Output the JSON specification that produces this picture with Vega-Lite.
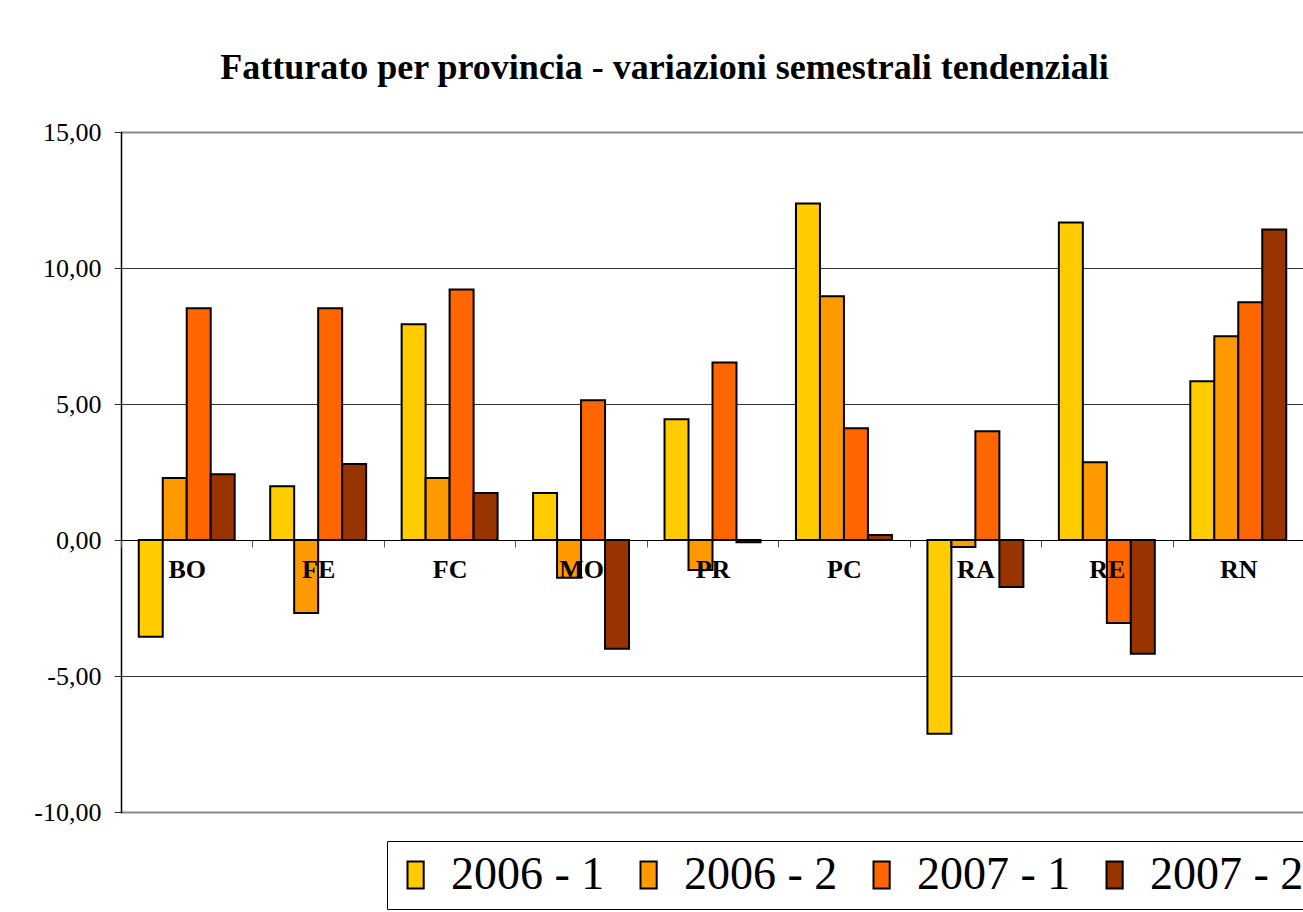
{
  "$schema": "https://vega.github.io/schema/vega-lite/v6.json",
  "autosize": {"type": "none"},
  "width": 1183,
  "height": 680,
  "padding": {"left": 121, "top": 132, "right": 0, "bottom": 100},
  "background": "white",
  "title": {
    "text": "Fatturato per provincia - variazioni semestrali tendenziali",
    "font": "Liberation Serif",
    "fontSize": 36,
    "fontWeight": "bold",
    "color": "black",
    "anchor": "middle",
    "frame": "group",
    "dx": -48,
    "offset": 32
  },
  "data": {
    "values": [
      {"prov": "BO", "periodo": "2006 - 1", "valore": -3.56},
      {"prov": "BO", "periodo": "2006 - 2", "valore": 2.28},
      {"prov": "BO", "periodo": "2007 - 1", "valore": 8.52},
      {"prov": "BO", "periodo": "2007 - 2", "valore": 2.42},
      {"prov": "FE", "periodo": "2006 - 1", "valore": 1.98},
      {"prov": "FE", "periodo": "2006 - 2", "valore": -2.68},
      {"prov": "FE", "periodo": "2007 - 1", "valore": 8.52},
      {"prov": "FE", "periodo": "2007 - 2", "valore": 2.79},
      {"prov": "FC", "periodo": "2006 - 1", "valore": 7.93},
      {"prov": "FC", "periodo": "2006 - 2", "valore": 2.28},
      {"prov": "FC", "periodo": "2007 - 1", "valore": 9.21},
      {"prov": "FC", "periodo": "2007 - 2", "valore": 1.73},
      {"prov": "MO", "periodo": "2006 - 1", "valore": 1.73},
      {"prov": "MO", "periodo": "2006 - 2", "valore": -1.39},
      {"prov": "MO", "periodo": "2007 - 1", "valore": 5.14},
      {"prov": "MO", "periodo": "2007 - 2", "valore": -4.0},
      {"prov": "PR", "periodo": "2006 - 1", "valore": 4.44},
      {"prov": "PR", "periodo": "2006 - 2", "valore": -1.1},
      {"prov": "PR", "periodo": "2007 - 1", "valore": 6.53},
      {"prov": "PR", "periodo": "2007 - 2", "valore": -0.08},
      {"prov": "PC", "periodo": "2006 - 1", "valore": 12.37},
      {"prov": "PC", "periodo": "2006 - 2", "valore": 8.96},
      {"prov": "PC", "periodo": "2007 - 1", "valore": 4.11},
      {"prov": "PC", "periodo": "2007 - 2", "valore": 0.18},
      {"prov": "RA", "periodo": "2006 - 1", "valore": -7.12},
      {"prov": "RA", "periodo": "2006 - 2", "valore": -0.26},
      {"prov": "RA", "periodo": "2007 - 1", "valore": 4.0},
      {"prov": "RA", "periodo": "2007 - 2", "valore": -1.73},
      {"prov": "RE", "periodo": "2006 - 1", "valore": 11.67},
      {"prov": "RE", "periodo": "2006 - 2", "valore": 2.86},
      {"prov": "RE", "periodo": "2007 - 1", "valore": -3.05},
      {"prov": "RE", "periodo": "2007 - 2", "valore": -4.18},
      {"prov": "RN", "periodo": "2006 - 1", "valore": 5.84},
      {"prov": "RN", "periodo": "2006 - 2", "valore": 7.49},
      {"prov": "RN", "periodo": "2007 - 1", "valore": 8.74},
      {"prov": "RN", "periodo": "2007 - 2", "valore": 11.42}
    ]
  },
  "mark": {"type": "bar", "stroke": "black", "strokeWidth": 2},
  "encoding": {
    "x": {
      "field": "prov",
      "type": "nominal",
      "sort": ["BO", "FE", "FC", "MO", "PR", "PC", "RA", "RE", "RN"],
      "scale": {"paddingInner": 0, "paddingOuter": 0},
      "axis": {
        "title": null,
        "offset": -272,
        "zindex": 1,
        "domainColor": "black",
        "domainWidth": 1,
        "tickBand": "extent",
        "tickColor": "#555",
        "tickSize": 7,
        "labelAngle": 0,
        "labelOverlap": false,
        "labelFont": "Liberation Serif",
        "labelFontSize": 26,
        "labelFontWeight": "bold",
        "labelColor": "black",
        "labelPadding": 9,
        "labelBaseline": "top",
        "grid": false
      }
    },
    "xOffset": {
      "field": "periodo",
      "type": "nominal",
      "scale": {"paddingInner": 0, "paddingOuter": 0.74}
    },
    "y": {
      "field": "valore",
      "type": "quantitative",
      "scale": {"domain": [-10, 15], "nice": false, "zero": false},
      "axis": {
        "title": null,
        "values": [-10, -5, 0, 5, 10, 15],
        "labelExpr": "(datum.value < 0 ? '-' : '') + replace(format(abs(datum.value), '.2f'), '.', ',')",
        "labelFont": "Liberation Serif",
        "labelFontSize": 26,
        "labelColor": "black",
        "labelPadding": 13,
        "tickSize": 7,
        "tickColor": "#333",
        "domainColor": "black",
        "domainWidth": 1.5,
        "grid": true,
        "gridColor": {"condition": {"test": "datum.value == 15 || datum.value == -10", "value": "#888"}, "value": "#333"},
        "gridWidth": {"condition": {"test": "datum.value == 15 || datum.value == -10", "value": 2}, "value": 1},
        "gridOpacity": 1
      }
    },
    "color": {
      "field": "periodo",
      "type": "nominal",
      "scale": {
        "domain": ["2006 - 1", "2006 - 2", "2007 - 1", "2007 - 2"],
        "range": ["#FFCC00", "#FF9900", "#FF6600", "#993300"]
      },
      "legend": {
        "title": null,
        "orient": "none",
        "legendX": 266,
        "legendY": 709,
        "direction": "horizontal",
        "columns": 4,
        "columnPadding": 26,
        "padding": 11,
        "fillColor": "white",
        "strokeColor": "black",
        "symbolType": "M-1,-1H0.2V1H-1Z",
        "symbolSize": 729,
        "symbolStrokeColor": "black",
        "symbolStrokeWidth": 2,
        "symbolOpacity": 1,
        "labelFont": "Liberation Serif",
        "labelFontSize": 46,
        "labelColor": "black",
        "labelOffset": 7,
        "labelLimit": 400
      }
    }
  },
  "config": {
    "view": {"stroke": null},
    "axis": {"domainCap": "square"}
  }
}
